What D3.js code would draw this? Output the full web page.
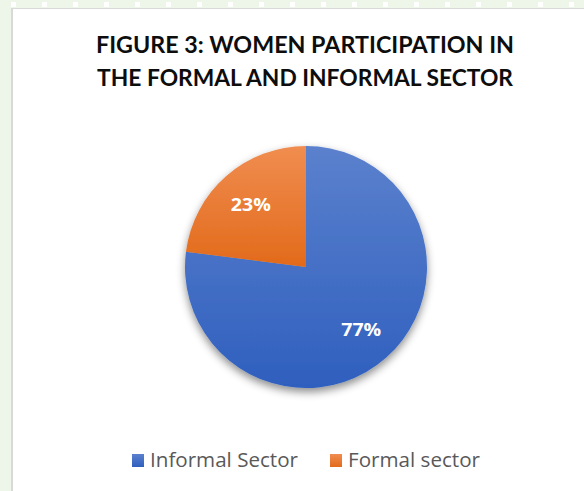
<!DOCTYPE html>
<html>
<head>
<meta charset="utf-8">
<script src="https://cdn.jsdelivr.net/npm/d3@7"></script>
<style>
  html, body { margin: 0; padding: 0; background: #eef5e9; }
  svg { display: block; }
  text { font-family: "Open Sans", "Noto Sans", sans-serif; }
</style>
</head>
<body>
<script>
// Chart data
const categories = ["Informal Sector", "Formal sector"];
const shares = [77, 23];
const titleLines = ["FIGURE 3: WOMEN PARTICIPATION IN", "THE FORMAL AND INFORMAL SECTOR"];
const sliceColors = [["#5b81cd", "#2f5fbe"], ["#f08d50", "#e26a1b"]];

const W = 584, H = 491;
const svg = d3.select("body").append("svg").attr("width", W).attr("height", H);
const defs = svg.append("defs");

// Page frame: light green margin with dotted top strip, white chart panel
svg.append("rect").attr("width", W).attr("height", H).attr("fill", "#eef5e9");
const dotX = d3.range(11, W, 31);
svg.selectAll("rect.dot").data(dotX).join("rect")
  .attr("class", "dot")
  .attr("x", d => d).attr("y", 2).attr("width", 5).attr("height", 5)
  .attr("fill", "#ffffff");
svg.append("rect").attr("x", 11).attr("y", 8).attr("width", W - 11).attr("height", H - 8)
  .attr("fill", "#d9d9d9");
svg.append("rect").attr("x", 13).attr("y", 9).attr("width", W - 13).attr("height", H - 9)
  .attr("fill", "#ffffff");

// Title
const cx = 305;
svg.selectAll("text.title").data(titleLines).join("text")
  .attr("class", "title")
  .attr("x", cx).attr("y", (d, i) => 53 + i * 33)
  .attr("text-anchor", "middle")
  .style("font-family", "Lato, 'Open Sans', sans-serif")
  .attr("font-size", 22.5).attr("font-weight", 700).attr("fill", "#0d0d0d")
  .attr("textLength", (d, i) => i === 0 ? 418 : 416)
  .attr("lengthAdjust", "spacingAndGlyphs")
  .text(d => d);

// Pie
const pcx = 306, pcy = 267, r = 121;
const pie = d3.pie().sort(null).value(d => d);
const arcs = pie(shares);
const arc = d3.arc().innerRadius(0).outerRadius(r);
const labelArc = d3.arc().innerRadius(r * 0.69).outerRadius(r * 0.69);

sliceColors.forEach((c, i) => {
  const g = defs.append("linearGradient").attr("id", "grad" + i)
    .attr("x1", 0).attr("y1", 0).attr("x2", 0).attr("y2", 1);
  g.append("stop").attr("offset", "0%").attr("stop-color", c[0]);
  g.append("stop").attr("offset", "100%").attr("stop-color", c[1]);
});

const shadow = defs.append("filter").attr("id", "shadow")
  .attr("x", "-20%").attr("y", "-20%").attr("width", "140%").attr("height", "140%");
shadow.append("feDropShadow").attr("dx", 0).attr("dy", 4)
  .attr("stdDeviation", 4).attr("flood-color", "#000").attr("flood-opacity", 0.45);

const pg = svg.append("g").attr("transform", `translate(${pcx},${pcy})`);
const slices = pg.append("g").attr("filter", "url(#shadow)");
slices.selectAll("path").data(arcs).join("path")
  .attr("d", arc)
  .attr("fill", (d, i) => `url(#grad${i})`);

pg.selectAll("text.val").data(arcs).join("text")
  .attr("class", "val")
  .attr("transform", d => `translate(${labelArc.centroid(d)})`)
  .attr("text-anchor", "middle")
  .attr("dy", "0.36em")
  .attr("font-size", 18.5).attr("font-weight", 700).attr("fill", "#ffffff")
  .attr("textLength", 40).attr("lengthAdjust", "spacingAndGlyphs")
  .text(d => d.data + "%");

// Legend
const legendX = [132, 330];
const lg = svg.append("g");
lg.selectAll("rect.key").data(categories).join("rect")
  .attr("class", "key")
  .attr("x", (d, i) => legendX[i]).attr("y", 454).attr("width", 12).attr("height", 13)
  .attr("fill", (d, i) => `url(#grad${i})`);
lg.selectAll("text.key").data(categories).join("text")
  .attr("class", "key")
  .attr("x", (d, i) => legendX[i] + 18).attr("y", 467)
  .attr("font-size", 20).attr("fill", "#595959")
  .attr("textLength", (d, i) => i === 0 ? 148 : 132)
  .attr("lengthAdjust", "spacingAndGlyphs")
  .text(d => d);
</script>
</body>
</html>
